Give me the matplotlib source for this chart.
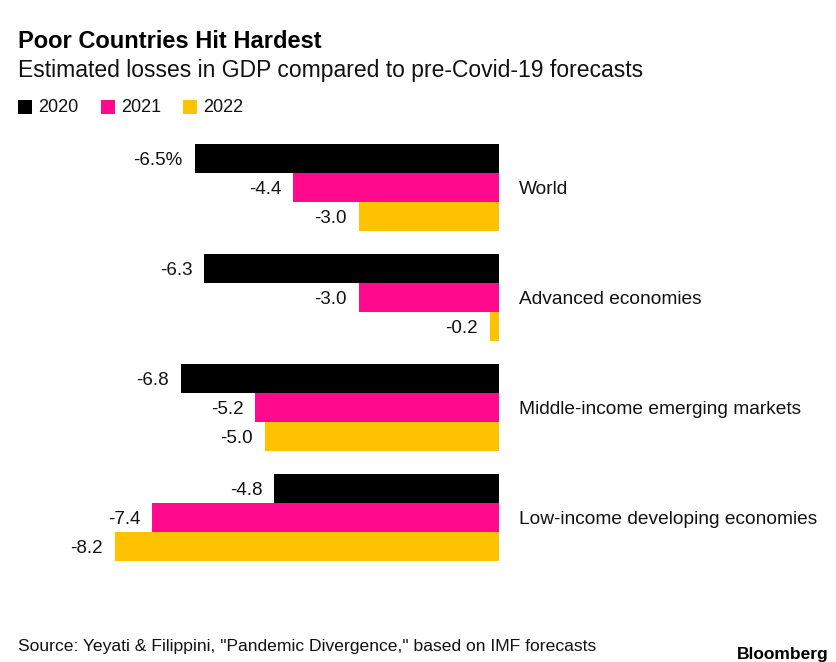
import numpy as np
import matplotlib.pyplot as plt
from matplotlib.patches import Rectangle

# Data
groups = ["World", "Advanced economies", "Middle-income emerging markets",
          "Low-income developing economies"]
years = ["2020", "2021", "2022"]
loss_2020 = [-6.5, -6.3, -6.8, -4.8]
loss_2021 = [-4.4, -3.0, -5.2, -7.4]
loss_2022 = [-3.0, -0.2, -5.0, -8.2]
colors = ["#000000", "#ff0a8c", "#ffc200"]

plt.rcParams['font.family'] = ['Liberation Sans', 'DejaVu Sans']

W, H = 836, 662
fig = plt.figure(figsize=(W / 100, H / 100), dpi=100)
fig.patch.set_facecolor("white")

# axes fills figure; scale so that 0 sits at px 499 and -8.2 at px 115
px_per_unit = (499 - 115) / 8.2
zero_px = 499
first_center_px = 188
group_px = 110
ax = fig.add_axes([0, 0, 1, 1])
ax.set_xlim(-zero_px / px_per_unit, (W - zero_px) / px_per_unit)
ax.set_ylim((H - first_center_px) / group_px, -first_center_px / group_px)
ax.axis("off")

bar_h = 29 / group_px
series = [loss_2020, loss_2021, loss_2022]
y = np.arange(len(groups))
for k, (vals, c) in enumerate(zip(series, colors)):
    pos = y + (k - 1) * bar_h
    ax.barh(pos, vals, height=bar_h, color=c, linewidth=0)
    for i, v in enumerate(vals):
        lab = f"{v:.1f}%" if (i == 0 and k == 0) else f"{v:.1f}"
        ax.annotate(lab, (v, pos[i]), xytext=(-8.5, -1.2), textcoords="offset points",
                    ha="right", va="center", fontsize=13.5, color="#111111")

for i, g in enumerate(groups):
    ax.annotate(g, (0, y[i]), xytext=(14.5, -1.2), textcoords="offset points",
                ha="left", va="center", fontsize=13.8, color="#111111")

# titles
fig.text(18 / W, 1 - 41 / H, "Poor Countries Hit Hardest", fontsize=17,
         fontweight="bold", va="center", ha="left", color="black")
fig.text(18 / W, 1 - 70 / H, "Estimated losses in GDP compared to pre-Covid-19 forecasts",
         fontsize=16.5, va="center", ha="left", color="#111111")

# legend
lx = [18, 101, 183]
for x0, yr, c in zip(lx, years, colors):
    fig.patches.append(Rectangle((x0 / W, 1 - 114 / H), 14 / W, 14 / H,
                                 transform=fig.transFigure, color=c, lw=0))
    fig.text((x0 + 20) / W, 1 - 108 / H, yr, fontsize=13, va="center",
             ha="left", color="#111111")

fig.text(18 / W, 1 - 647 / H,
         'Source: Yeyati & Filippini, "Pandemic Divergence," based on IMF forecasts',
         fontsize=12.6, va="center", ha="left", color="#111111")
fig.text(829 / W, 1 - 654 / H, "Bloomberg", fontsize=12.5, fontweight="bold",
         va="center", ha="right", color="black")

fig.savefig("out.png", dpi=100)
